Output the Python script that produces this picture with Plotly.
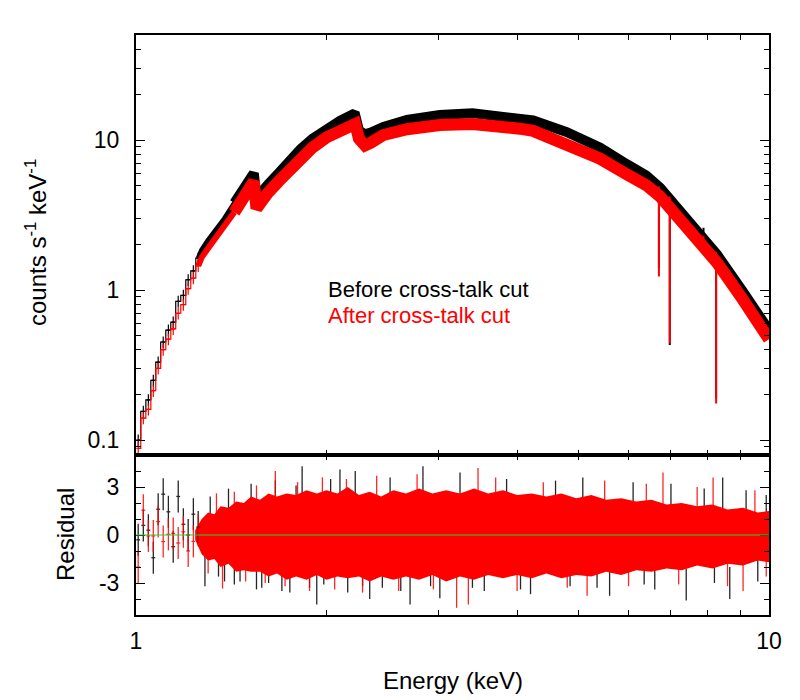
import plotly.graph_objects as go
from plotly.subplots import make_subplots

BLACK = "#000000"
RED = "#ff0000"
GREEN = "#33cc33"
FONT = "Liberation Sans, Arial, sans-serif"

# bas de spectre : canaux individuels (barres d'erreur visibles)
LOW_E = [1.008, 1.027, 1.046, 1.065, 1.084, 1.104, 1.125, 1.145, 1.166, 1.188, 1.209, 1.232, 1.254]
LOW_BEFORE = [0.10, 0.155, 0.185, 0.25, 0.33, 0.45, 0.54, 0.61, 0.84, 0.92, 1.17, 1.34, 1.63]
LOW_AFTER = [0.088, 0.14, 0.16, 0.213, 0.30, 0.40, 0.47, 0.55, 0.70, 0.80, 1.02, 1.20, 1.45]
LOW_RES_BEFORE = [-0.3, 0.6, 0.3, -1.42, 1.61, 2.55, 1.45, -0.73, 2.41, 0.67, 0.0, 1.3, 0.5]
LOW_RES_AFTER = [-2.0, 1.55, -0.06, -0.06, 0.84, -0.41, 0.04, 0.1, -0.5, 0.2, -1.0, -0.4, 0.3]

# partie dense du spectre (centre de la bande)
BAND_E = [1.254, 1.27, 1.30, 1.34, 1.38, 1.43, 1.48, 1.52, 1.535, 1.55, 1.57, 1.62, 1.68,
          1.75, 1.82, 1.90, 2.00, 2.10, 2.20, 2.22, 2.25, 2.30, 2.35, 2.46, 2.68, 3.02,
          3.40, 3.76, 4.04, 4.24, 4.79, 5.41, 5.96, 6.40, 6.73, 7.20, 7.59, 8.28, 9.10, 10.0]
BAND_BEFORE = [1.63, 1.85, 2.15, 2.55, 3.0, 3.8, 4.7, 5.6, 6.0, 4.1, 4.4, 5.1, 6.0,
               7.3, 8.7, 10.2, 11.9, 13.4, 14.8, 14.6, 11.6, 10.9, 11.2, 12.2, 13.6, 14.7,
               15.1, 14.6, 14.0, 13.5, 11.3, 8.9, 6.9, 5.8, 4.8, 3.5, 2.6, 1.72, 0.97, 0.54]
BAND_AFTER = [1.45, 1.65, 1.9, 2.25, 2.65, 3.3, 4.1, 4.9, 5.3, 3.5, 3.8, 4.5, 5.3,
              6.4, 7.6, 8.9, 10.4, 11.7, 13.0, 12.8, 10.2, 9.2, 9.6, 10.8, 11.8, 12.6,
              12.8, 12.5, 11.9, 11.5, 9.5, 7.5, 5.9, 5.0, 4.2, 3.05, 2.27, 1.52, 0.86, 0.47]

# raies d'absorption du fer
LINE_E = [6.70, 6.97, 7.88, 8.25]
LINE_TOP = [4.9, 4.2, 2.3, 1.8]
LINE_DEPTH_BEFORE = [1.4, 0.43, 2.6, 0.19]
LINE_DEPTH_AFTER = [1.23, 0.44, 2.1, 0.175]

# résidus : enveloppe de la zone dense (rouge)
RES_E = [1.24, 1.27, 1.30, 1.33, 1.36, 1.40, 1.44, 1.48, 1.52, 1.57, 1.62, 1.67, 1.73,
         1.79, 1.86, 1.93, 2.0, 2.08, 2.16, 2.25, 2.34, 2.44, 2.55, 2.67, 2.80, 2.94,
         3.09, 3.25, 3.42, 3.6, 3.8, 4.0, 4.22, 4.45, 4.7, 4.96, 5.24, 5.53, 5.84,
         6.17, 6.52, 6.89, 7.28, 7.7, 8.14, 8.6, 9.1, 9.6, 10.0]
RES_HI = [0.3, 1.0, 1.4, 1.3, 1.8, 1.7, 2.1, 2.0, 2.4, 2.2, 2.6, 2.4, 2.6,
          2.5, 2.8, 2.6, 2.8, 2.6, 3.0, 2.5, 2.7, 2.4, 2.8, 2.6, 2.9, 2.6,
          2.8, 2.6, 2.9, 2.6, 2.8, 2.5, 2.6, 2.4, 2.6, 2.3, 2.5, 2.2, 2.3,
          2.1, 2.2, 1.9, 2.0, 1.8, 1.9, 1.6, 1.7, 1.4, 1.5]
RES_LO = [-0.3, -1.2, -1.6, -1.5, -2.0, -1.8, -2.3, -2.2, -2.3, -2.3, -2.6, -2.4, -2.8,
          -2.6, -2.8, -2.5, -2.8, -2.6, -2.7, -2.6, -2.9, -2.6, -2.8, -2.6, -2.8, -2.5,
          -2.9, -2.6, -2.8, -2.5, -2.7, -2.5, -2.7, -2.4, -2.7, -2.5, -2.6, -2.3, -2.5,
          -2.2, -2.3, -2.1, -2.2, -1.9, -2.1, -1.8, -1.9, -1.6, -1.7]

# résidus : pointes qui dépassent
SPIKE_E_BEFORE = [1.285, 1.31, 1.35, 1.38, 1.40, 1.43, 1.46, 1.52, 1.55, 1.58, 1.62, 1.66,
                  1.70, 1.75, 1.79, 1.83, 1.88, 1.93, 1.98, 2.03, 2.10, 2.16, 2.22, 2.28,
                  2.34, 2.45, 2.52, 2.62, 2.71, 2.84, 2.92, 3.02, 3.25, 3.40, 3.55, 3.85,
                  4.05, 4.2, 4.6, 4.85, 5.08, 5.35, 5.6, 6.1, 6.35, 6.6, 7.0, 7.4, 7.9,
                  8.2, 8.45, 8.67, 9.2, 9.6, 9.9]
SPIKE_BEFORE = [-3.2, 2.4, -2.6, -2.9, 2.9, -3.1, -2.9, 3.2, -3.4, -3.3, -3.0, 3.4,
                -3.5, -3.6, 3.1, 4.3, -3.3, -4.35, -3.1, 3.5, 4.1, -3.6, 4.0, -3.2,
                -4.0, -3.3, 3.6, -3.5, -4.35, 4.3, -3.2, -3.95, 3.9, -3.3, -3.5, 3.5,
                -3.4, -3.7, 3.4, -3.2, 3.6, -3.3, -3.8, 3.3, -3.1, -3.4, 3.2, -4.1, 2.9,
                -3.0, 3.6, -4.0, 2.8, -2.9, 2.5]
SPIKE_E_AFTER = [1.30, 1.34, 1.37, 1.43, 1.49, 1.55, 1.60, 1.66, 1.72, 1.80, 1.88, 1.97,
                 2.06, 2.15, 2.28, 2.40, 2.6, 2.78, 2.95, 3.21, 3.35, 3.47, 3.7, 4.0,
                 4.4, 4.8, 5.16, 5.5, 6.0, 6.4, 6.8, 7.2, 7.7, 8.16, 8.6, 9.1, 9.5, 9.9]
SPIKE_AFTER = [-2.4, 2.6, -3.35, 2.7, -2.9, 3.1, -3.0, 4.0, -3.2, 3.3, -3.5, 3.6,
               -3.4, 3.5, -3.6, 3.7, -3.5, 3.8, -3.4, -4.55, -4.35, 4.18, 3.6, -3.5,
               3.3, -3.3, -3.8, 3.4, -3.2, 3.2, 3.9, -3.1, 3.0, 3.6, -3.2, -3.5, 2.8, -2.6]


def segments(xs, y0s, y1s):
    x, y = [], []
    for xi, a, b in zip(xs, y0s, y1s):
        x += [xi, xi, None]
        y += [a, b, None]
    return x, y


def spike_base(vals):
    return [v - 2.0 if v > 0 else v + 2.0 for v in vals]


fig = make_subplots(rows=2, cols=1, shared_xaxes=True, vertical_spacing=0,
                    row_heights=[420 / 580, 160 / 580])

n_thin = sum(e <= 1.43 for e in BAND_E)

# --- spectre ---
for low, band, depth, col, w in [
    (LOW_BEFORE, BAND_BEFORE, LINE_DEPTH_BEFORE, BLACK, 10),
    (LOW_AFTER, BAND_AFTER, LINE_DEPTH_AFTER, RED, 12),
]:
    fig.add_trace(go.Scatter(
        x=LOW_E, y=low, mode="lines", line=dict(color=col, width=1.2, shape="hvh"),
        error_y=dict(type="percent", value=9, color=col, thickness=1.2, width=0),
        error_x=dict(type="percent", value=0.7, color=col, thickness=1.2, width=0),
        showlegend=False,
    ), row=1, col=1)
    fig.add_trace(go.Scatter(
        x=BAND_E[:n_thin], y=band[:n_thin], mode="lines", line=dict(color=col, width=w * 0.5),
        showlegend=False,
    ), row=1, col=1)
    fig.add_trace(go.Scatter(
        x=BAND_E[n_thin - 1:], y=band[n_thin - 1:], mode="lines", line=dict(color=col, width=w),
        showlegend=False,
    ), row=1, col=1)
    sx, sy = segments(LINE_E, LINE_TOP, depth)
    fig.add_trace(go.Scatter(
        x=sx, y=sy, mode="lines", line=dict(color=col, width=2), showlegend=False,
    ), row=1, col=1)

# --- résidus ---
sx, sy = segments(SPIKE_E_BEFORE, spike_base(SPIKE_BEFORE), SPIKE_BEFORE)
fig.add_trace(go.Scatter(x=sx, y=sy, mode="lines", line=dict(color=BLACK, width=1.3),
                         opacity=0.85, showlegend=False), row=2, col=1)

fig.add_trace(go.Scatter(
    x=RES_E + RES_E[::-1], y=RES_HI + RES_LO[::-1], fill="toself", fillcolor=RED,
    mode="lines", line=dict(color=RED, width=0), showlegend=False,
), row=2, col=1)

sx, sy = segments(SPIKE_E_AFTER, spike_base(SPIKE_AFTER), SPIKE_AFTER)
fig.add_trace(go.Scatter(x=sx, y=sy, mode="lines", line=dict(color=RED, width=1.3),
                         opacity=0.85, showlegend=False), row=2, col=1)

for res, col in [(LOW_RES_BEFORE, BLACK), (LOW_RES_AFTER, RED)]:
    fig.add_trace(go.Scatter(
        x=LOW_E, y=res, mode="markers", marker=dict(size=1, color=col),
        error_y=dict(type="constant", value=1, color=col, thickness=1.3, width=0),
        error_x=dict(type="percent", value=0.7, color=col, thickness=1.3, width=0),
        opacity=0.85, showlegend=False,
    ), row=2, col=1)

fig.add_hline(y=0, line_color=GREEN, line_width=1.2, row=2, col=1)

axis_common = dict(
    showline=True, linecolor=BLACK, linewidth=2, mirror="allticks",
    ticks="inside", tickcolor=BLACK, tickwidth=1, ticklen=9,
    showgrid=False, zeroline=False,
    tickfont=dict(family=FONT, size=23, color=BLACK),
)
x_minor = dict(tickmode="array", tickvals=[2, 3, 4, 5, 6, 7, 8, 9], ticklen=5,
               ticks="inside", tickcolor=BLACK, showgrid=False)

fig.update_xaxes(type="log", range=[0, 1], tickvals=[1, 10], ticktext=["1", "10"],
                 minor=x_minor, **axis_common)
fig.update_xaxes(showticklabels=False, row=1, col=1)
fig.update_xaxes(showticklabels=True, ticklabelstandoff=4, row=2, col=1)

fig.update_yaxes(type="log", range=[-1.1, 1.7], tickvals=[0.1, 1, 10], ticktext=["0.1", "1", "10"],
                 ticklabelstandoff=10,
                 minor=dict(tickmode="array",
                            tickvals=[0.08, 0.09, 0.2, 0.3, 0.4, 0.5, 0.6, 0.7, 0.8, 0.9,
                                      2, 3, 4, 5, 6, 7, 8, 9, 20, 30, 40],
                            ticklen=5, ticks="inside", tickcolor=BLACK, showgrid=False),
                 row=1, col=1, **axis_common)
fig.update_yaxes(range=[-5, 5], tickvals=[-3, 0, 3], ticktext=["-3", "0", "3"],
                 ticklabelstandoff=10,
                 minor=dict(tickmode="array", tickvals=[-4, -2, -1, 1, 2, 4], ticklen=5,
                            ticks="inside", tickcolor=BLACK, showgrid=False),
                 row=2, col=1, **axis_common)

# le tracé fait 633 x 580 px, placé à (136, 35) dans la fenêtre
for text, y, col in [("Before cross-talk cut", (615 - 289) / 580, BLACK),
                     ("After cross-talk cut", (615 - 315) / 580, RED)]:
    fig.add_annotation(text=text, x=(326 - 136) / 633, y=y, xref="paper", yref="paper",
                       xanchor="left", yanchor="middle", showarrow=False,
                       font=dict(family=FONT, size=22, color=col))

fig.add_annotation(text="Energy (keV)", x=(453 - 136) / 633, y=-65 / 580, xref="paper", yref="paper",
                   xanchor="center", yanchor="middle", showarrow=False,
                   font=dict(family=FONT, size=24, color=BLACK))
fig.add_annotation(text="counts s<sup>-1</sup> keV<sup>-1</sup>", x=(36 - 136) / 633, y=(615 - 243) / 580,
                   xref="paper", yref="paper", xanchor="center", yanchor="middle",
                   textangle=-90, showarrow=False, font=dict(family=FONT, size=24, color=BLACK))
fig.add_annotation(text="Residual", x=(65 - 136) / 633, y=(615 - 535) / 580,
                   xref="paper", yref="paper", xanchor="center", yanchor="middle",
                   textangle=-90, showarrow=False, font=dict(family=FONT, size=24, color=BLACK))

# la page ajoute 8 px de marge autour de la figure
fig.update_layout(
    width=792, height=692,
    margin=dict(l=128, r=31, t=27, b=85),
    plot_bgcolor="white", paper_bgcolor="white",
    showlegend=False,
)

fig.write_html("out.html")
